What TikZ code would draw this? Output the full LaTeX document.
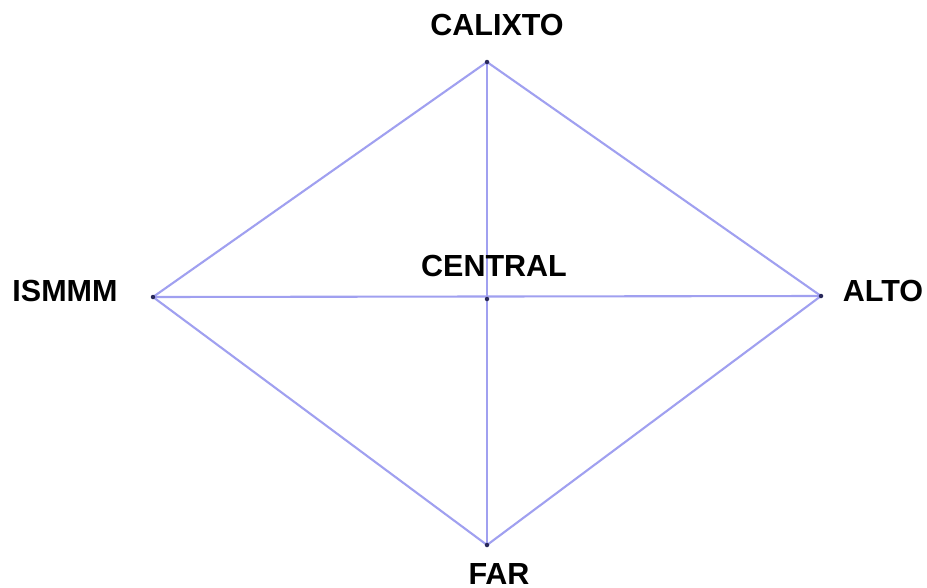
\documentclass[tikz,border=0pt]{standalone}
\usepackage{fontspec}
\setmainfont{Liberation Sans}
\begin{document}
\begin{tikzpicture}[x=1pt,y=-1pt,
  edge/.style={draw={rgb,255:red,160;green,160;blue,240}, line width=2.1pt},
  vtx/.style={circle, fill={rgb,255:red,40;green,40;blue,90}, inner sep=0pt, minimum size=4.5pt},
  lbl/.style={font=\bfseries\fontsize{30.5}{30.5}\selectfont, text=black, inner sep=0pt, anchor=center}]
\useasboundingbox[fill=white] (0,0) rectangle (927,587);
\coordinate (cal) at (487,62);
\coordinate (ism) at (153,297);
\coordinate (cen) at (487,299);
\coordinate (alt) at (821,296);
\coordinate (far) at (487,545);
\draw[edge] (cal) -- (alt) -- (far) -- (ism) -- (cal);
\draw[edge] (cal) -- (far);
\draw[edge] (ism) -- (alt);
\foreach \n in {cal,ism,cen,alt,far} \node[vtx] (v\n) at (\n) {};
\node[lbl] (lcal) at (497,25) {CALIXTO};
\node[lbl] (lism) at (65,291) {ISMMM};
\node[lbl] (lcen) at (494,266) {CENTRAL};
\node[lbl] (lalt) at (883,291) {ALTO};
\node[lbl] (lfar) at (499,574) {FAR};
\end{tikzpicture}
\end{document}
